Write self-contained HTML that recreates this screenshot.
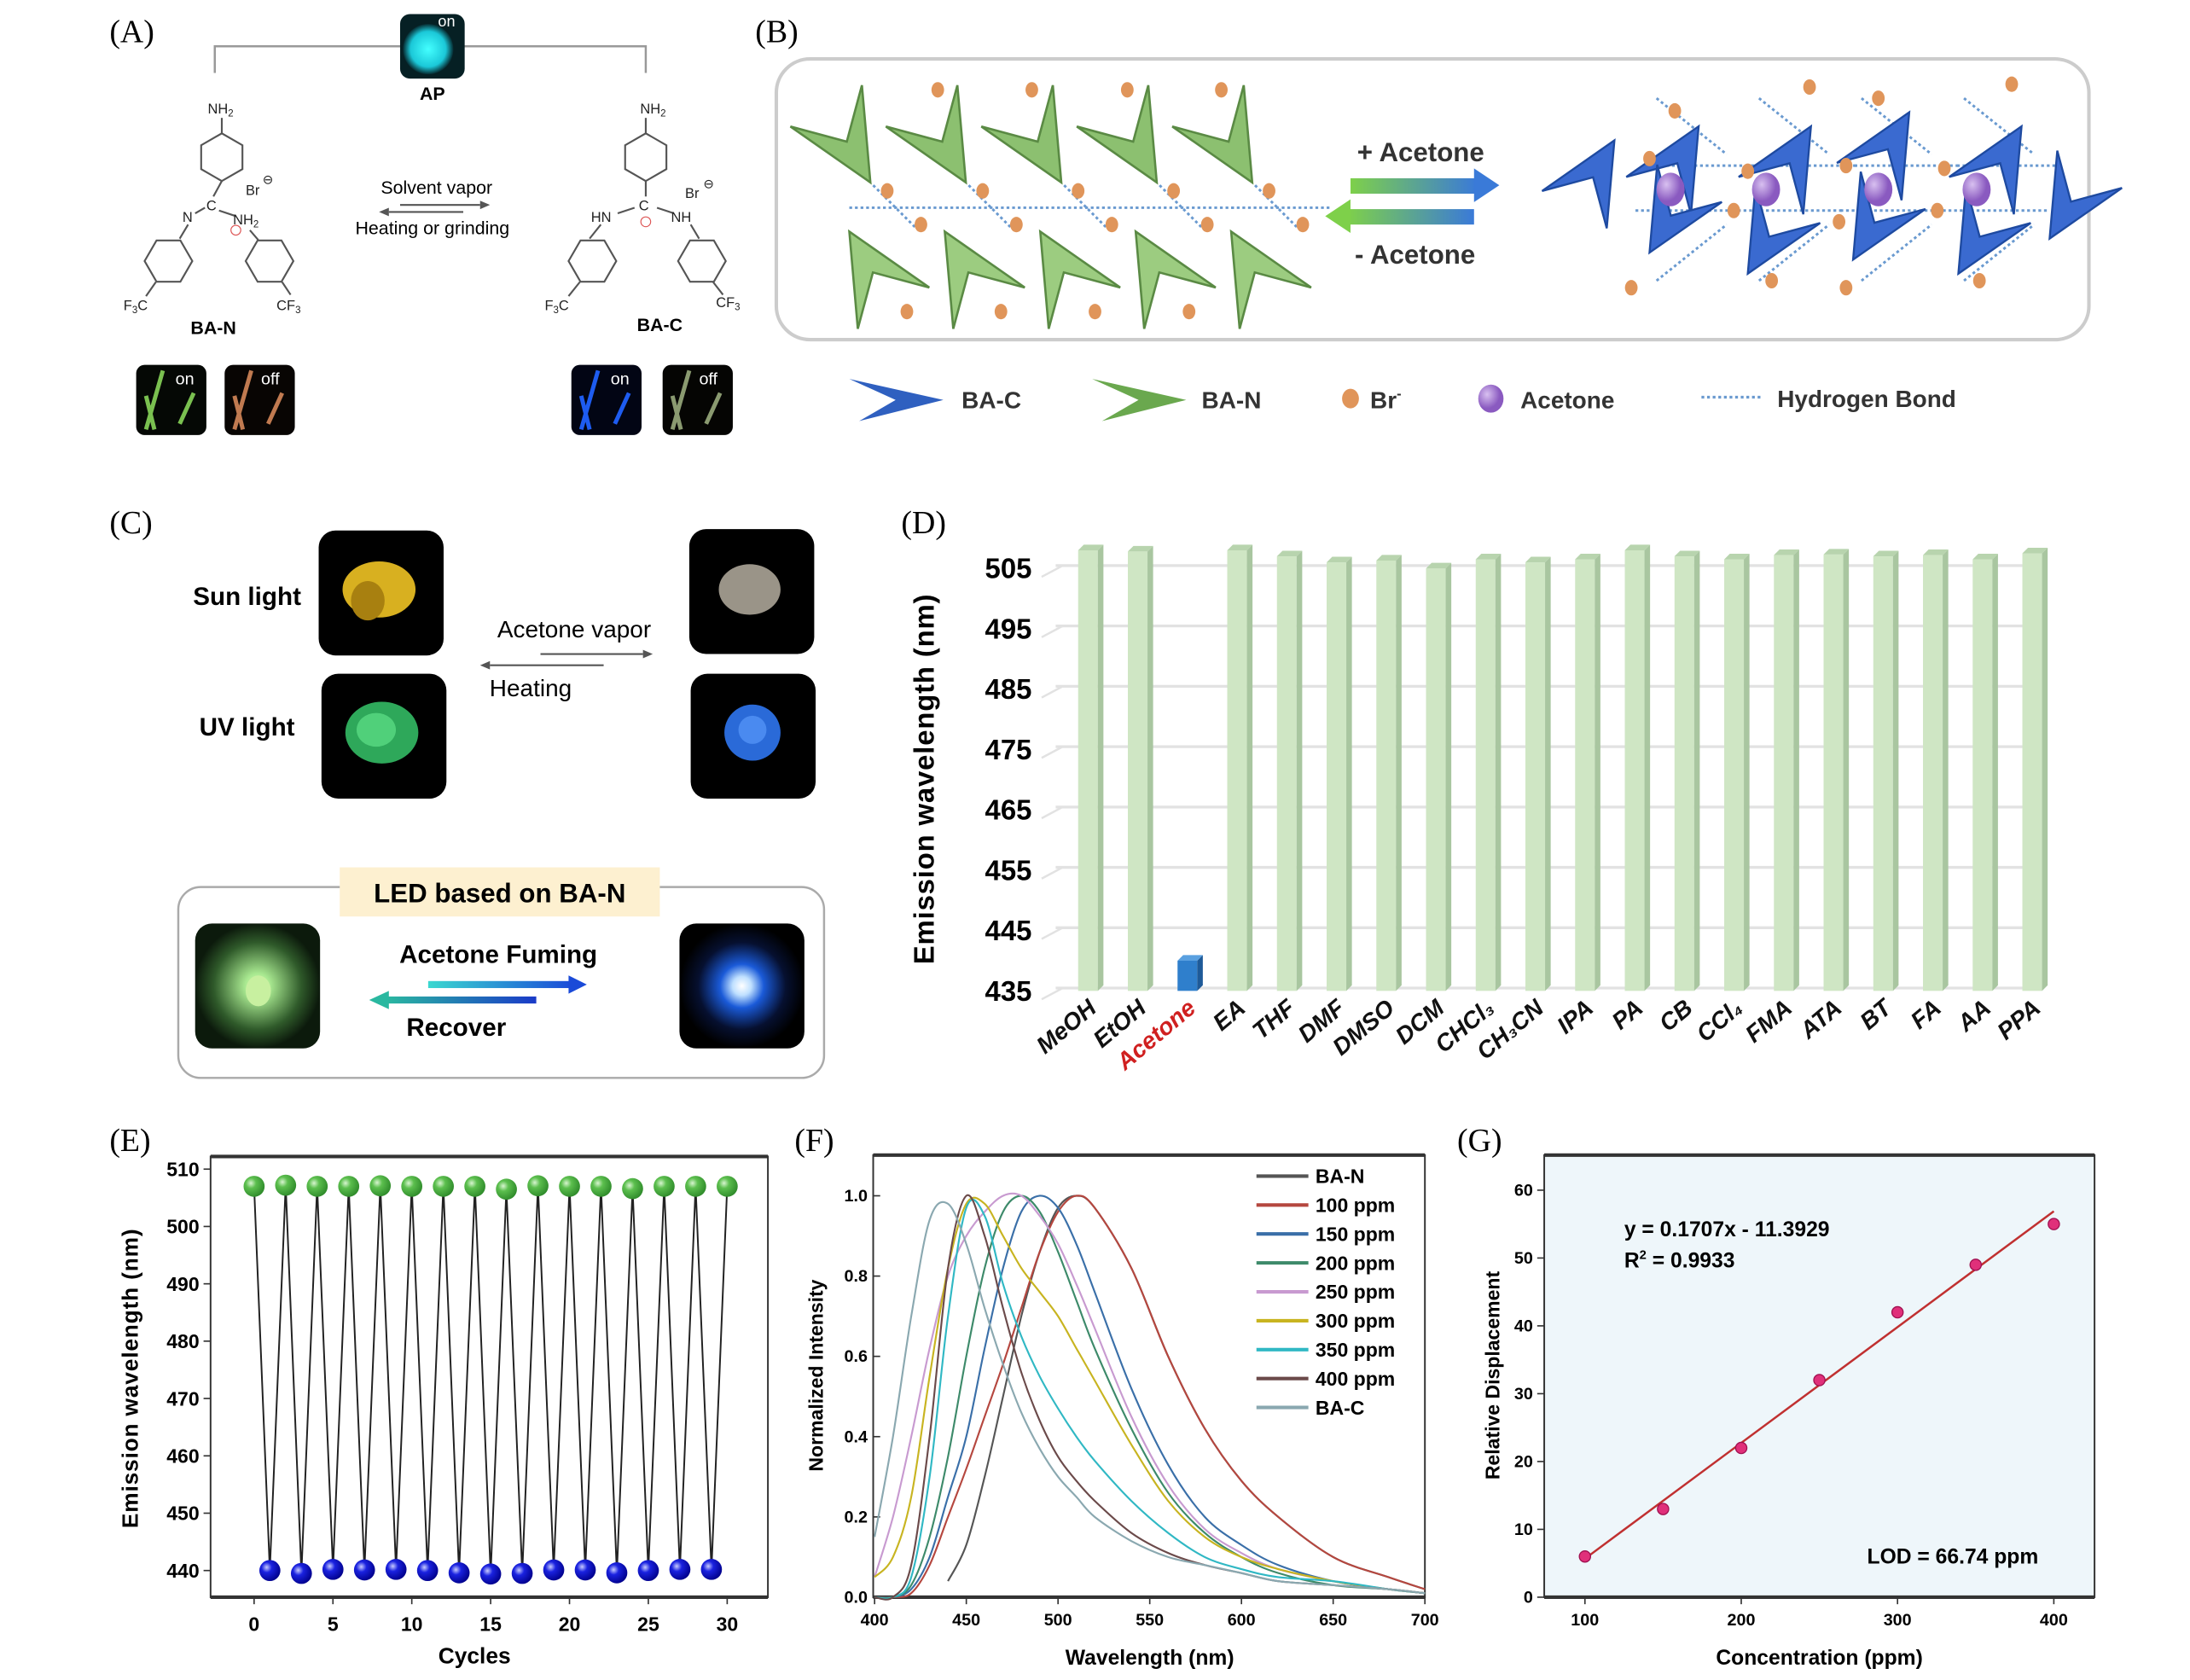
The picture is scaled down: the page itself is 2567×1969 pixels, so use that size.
<!DOCTYPE html>
<html><head><meta charset="utf-8"><style>
html,body{margin:0;padding:0;background:#fff}
svg{display:block}
text{font-family:"Liberation Sans",Arial,sans-serif}
.pl{font-family:"Liberation Serif",serif;font-size:23px}
.b{font-weight:bold}
</style></head><body>
<svg id="fig" width="2567" height="1969" viewBox="0 0 1560 1197" preserveAspectRatio="none" xmlns="http://www.w3.org/2000/svg">
<defs>
<radialGradient id="gG" cx="0.35" cy="0.35" r="0.7"><stop offset="0" stop-color="#d8f5d0"/><stop offset="0.35" stop-color="#5cbf4e"/><stop offset="1" stop-color="#2e8a2a"/></radialGradient>
<radialGradient id="gB" cx="0.35" cy="0.35" r="0.7"><stop offset="0" stop-color="#c8ccff"/><stop offset="0.35" stop-color="#1a22e0"/><stop offset="1" stop-color="#00008a"/></radialGradient>
<radialGradient id="gAP"><stop offset="0" stop-color="#4ff"/><stop offset="0.7" stop-color="#1bc8d8"/><stop offset="1" stop-color="#062a30"/></radialGradient>
<radialGradient id="gLedG"><stop offset="0" stop-color="#d6ffb0"/><stop offset="0.2" stop-color="#a8e890"/><stop offset="0.7" stop-color="#2f5a2a"/><stop offset="1" stop-color="#0c1a0c"/></radialGradient>
<radialGradient id="gLedB"><stop offset="0" stop-color="#fff"/><stop offset="0.15" stop-color="#bfe0ff"/><stop offset="0.35" stop-color="#1a5ad8"/><stop offset="0.7" stop-color="#061030"/><stop offset="1" stop-color="#000"/></radialGradient>
<radialGradient id="gPur" cx="0.35" cy="0.35"><stop offset="0" stop-color="#d8c0f0"/><stop offset="1" stop-color="#8a5ac0"/></radialGradient>
<linearGradient id="arrGB" x1="0" x2="1"><stop offset="0" stop-color="#7ed04a"/><stop offset="1" stop-color="#3a7ad8"/></linearGradient>
<linearGradient id="arrBG" x1="0" x2="1"><stop offset="0" stop-color="#7ed04a"/><stop offset="1" stop-color="#3a7ad8"/></linearGradient>
<linearGradient id="arrLed" x1="0" x2="1"><stop offset="0" stop-color="#3ad8d0"/><stop offset="1" stop-color="#1a4ad8"/></linearGradient>
<linearGradient id="arrLed2" x1="0" x2="1"><stop offset="0" stop-color="#2ab8a0"/><stop offset="1" stop-color="#1a3ac8"/></linearGradient>
</defs>

<!-- ===== Panel A ===== -->
<g>
<text class="pl" x="78" y="30">(A)</text>
<polyline points="153,52 153,33 286,33" fill="none" stroke="#999" stroke-width="1.5"/>
<polyline points="330,33 460,33 460,52" fill="none" stroke="#999" stroke-width="1.5"/>
<rect x="285" y="10" width="46" height="46" rx="7" fill="#062024"/>
<circle cx="305" cy="35" r="18" fill="url(#gAP)"/>
<text x="312" y="19" fill="#fff" font-size="11">on</text>
<text x="308" y="71" font-size="13" class="b" text-anchor="middle">AP</text>
<g id="mols" fill="none" stroke="#555" stroke-width="1.3"></g>
<g font-size="10" fill="#222">
<text x="148" y="81">NH<tspan font-size="7" dy="2">2</tspan></text>
<text x="175" y="139">Br</text><text x="187" y="131" font-size="9">⊖</text>
<text x="147" y="150">C</text>
<text x="130" y="158">N</text>
<text x="166" y="160">NH<tspan font-size="7" dy="2">2</tspan></text>
<circle cx="168" cy="164" r="3.5" fill="none" stroke="#d55" stroke-width="0.7"/>
<text x="88" y="221">F<tspan font-size="7" dy="2">3</tspan><tspan dy="-2">C</tspan></text>
<text x="197" y="221">CF<tspan font-size="7" dy="2">3</tspan></text>
<text x="456" y="81">NH<tspan font-size="7" dy="2">2</tspan></text>
<text x="488" y="141">Br</text><text x="501" y="134" font-size="9">⊖</text>
<text x="455" y="150">C</text>
<text x="421" y="158">HN</text>
<text x="478" y="158">NH</text>
<circle cx="460" cy="158" r="3.5" fill="none" stroke="#d55" stroke-width="0.7"/>
<text x="388" y="221">F<tspan font-size="7" dy="2">3</tspan><tspan dy="-2">C</tspan></text>
<text x="510" y="219">CF<tspan font-size="7" dy="2">3</tspan></text>
</g>
<text x="152" y="238" font-size="13" class="b" text-anchor="middle">BA-N</text>
<text x="470" y="236" font-size="13" class="b" text-anchor="middle">BA-C</text>
<text x="311" y="138" font-size="13" text-anchor="middle">Solvent vapor</text>
<text x="308" y="167" font-size="13" text-anchor="middle">Heating or grinding</text>
<line x1="285" y1="146" x2="342" y2="146" stroke="#555" stroke-width="1.3"/><polygon points="342,143 349,146 342,149" fill="#555"/>
<line x1="277" y1="151" x2="330" y2="151" stroke="#555" stroke-width="1.3"/><polygon points="277,148 270,151 277,154" fill="#555"/>
<g>
<rect x="97" y="260" width="50" height="50" rx="6" fill="#050805"/>
<path d="M104,306 L116,264 M110,306 L104,282 M128,302 L138,280" stroke="#7ac050" stroke-width="3"/>
<text x="125" y="274" fill="#fff" font-size="12">on</text>
<rect x="160" y="260" width="50" height="50" rx="6" fill="#080503"/>
<path d="M167,306 L179,264 M173,306 L167,282 M191,302 L201,280" stroke="#c07a50" stroke-width="3"/>
<text x="186" y="274" fill="#fff" font-size="12">off</text>
<rect x="407" y="260" width="50" height="50" rx="6" fill="#020514"/>
<path d="M414,306 L426,264 M420,306 L414,282 M438,302 L448,280" stroke="#1e5cf0" stroke-width="3"/>
<text x="435" y="274" fill="#fff" font-size="12">on</text>
<rect x="472" y="260" width="50" height="50" rx="6" fill="#050503"/>
<path d="M479,306 L491,264 M485,306 L479,282 M503,302 L513,280" stroke="#8a9a70" stroke-width="3"/>
<text x="498" y="274" fill="#fff" font-size="12">off</text>
</g>
</g>

<!-- ===== Panel B ===== -->
<g>
<text class="pl" x="538" y="30">(B)</text>
<rect x="553" y="42" width="935" height="200" rx="24" fill="#fff" stroke="#ccc" stroke-width="2.5"/>
<g id="latt"></g>
<text x="1012" y="115" font-size="19" class="b" fill="#333" text-anchor="middle">+ Acetone</text>
<text x="1008" y="188" font-size="19" class="b" fill="#333" text-anchor="middle">- Acetone</text>
<rect x="962" y="127" width="90" height="11" fill="url(#arrGB)"/><polygon points="1050,120 1068,132 1050,144" fill="#3a7ad8"/>
<rect x="960" y="149" width="90" height="11" fill="url(#arrBG)"/><polygon points="962,142 944,154 962,166" fill="#7ed04a"/>
<g font-size="17" class="b" fill="#333">
<polygon points="605,270 672,285 612,300 638,285" fill="#2f60c0"/><text x="685" y="291">BA-C</text>
<polygon points="778,270 845,285 785,300 811,285" fill="#6aa84e"/><text x="856" y="291">BA-N</text>
<ellipse cx="962" cy="284" rx="6" ry="7" fill="#e0955a"/><text x="976" y="291">Br<tspan font-size="10" dy="-7">-</tspan></text>
<ellipse cx="1062" cy="284" rx="9" ry="10" fill="url(#gPur)"/><text x="1083" y="291">Acetone</text>
<line x1="1212" y1="283" x2="1255" y2="283" stroke="#6a9ad0" stroke-width="2" stroke-dasharray="2,2"/><text x="1266" y="290">Hydrogen  Bond</text>
</g>
</g>

<!-- ===== Panel C ===== -->
<g>
<text class="pl" x="78" y="380">(C)</text>
<text x="176" y="431" font-size="18" class="b" text-anchor="middle">Sun light</text>
<text x="176" y="524" font-size="18" class="b" text-anchor="middle">UV light</text>
<rect x="227" y="378" width="89" height="89" rx="12" fill="#000"/>
<ellipse cx="270" cy="420" rx="26" ry="20" fill="#d8b020"/><ellipse cx="262" cy="428" rx="12" ry="14" fill="#a88010"/>
<rect x="229" y="480" width="89" height="89" rx="12" fill="#000"/>
<ellipse cx="272" cy="522" rx="26" ry="22" fill="#2ea85a"/><ellipse cx="268" cy="520" rx="14" ry="12" fill="#50d07a"/>
<rect x="491" y="377" width="89" height="89" rx="12" fill="#000"/>
<ellipse cx="534" cy="420" rx="22" ry="18" fill="#9a9488"/>
<rect x="492" y="480" width="89" height="89" rx="12" fill="#000"/>
<ellipse cx="536" cy="522" rx="20" ry="20" fill="#2a6ad8"/><ellipse cx="536" cy="520" rx="10" ry="10" fill="#4a8af0"/>
<text x="409" y="454" font-size="17" text-anchor="middle">Acetone vapor</text>
<text x="378" y="496" font-size="17" text-anchor="middle">Heating</text>
<line x1="385" y1="466" x2="458" y2="466" stroke="#555" stroke-width="1.3"/><polygon points="458,463 465,466 458,469" fill="#555"/>
<line x1="349" y1="474" x2="430" y2="474" stroke="#555" stroke-width="1.3"/><polygon points="349,471 342,474 349,477" fill="#555"/>
<rect x="127" y="632" width="460" height="136" rx="16" fill="#fff" stroke="#aaa" stroke-width="1.5"/>
<rect x="242" y="618" width="228" height="35" fill="#fdf0d0"/>
<text x="356" y="643" font-size="19" class="b" text-anchor="middle">LED based on BA-N</text>
<rect x="139" y="658" width="89" height="89" rx="12" fill="url(#gLedG)"/>
<ellipse cx="184" cy="706" rx="9" ry="11" fill="#c8f0a0"/>
<rect x="484" y="658" width="89" height="89" rx="12" fill="url(#gLedB)"/>
<text x="355" y="686" font-size="18" class="b" text-anchor="middle">Acetone Fuming</text>
<text x="325" y="738" font-size="18" class="b" text-anchor="middle">Recover</text>
<rect x="305" y="699" width="103" height="5" fill="url(#arrLed)"/><polygon points="405,695 418,701.5 405,708" fill="#1a4ad8"/>
<rect x="275" y="710" width="107" height="5" fill="url(#arrLed2)"/><polygon points="277,706 263,712.5 277,719" fill="#2ab8a0"/>
</g>

<!-- ===== Panel D ===== -->
<g>
<text class="pl" x="642" y="380">(D)</text>
<g id="chartD"></g>
<text transform="translate(665,555) rotate(-90)" font-size="20" class="b" text-anchor="middle" letter-spacing="0.5">Emission wavelength (nm)</text>
</g>

<!-- ===== Panel E ===== -->
<g>
<text class="pl" x="78" y="820">(E)</text>
<g id="chartE"></g>
<text transform="translate(98,982) rotate(-90)" font-size="16" class="b" text-anchor="middle" letter-spacing="0.5">Emission wavelength (nm)</text>
<text x="338" y="1185" font-size="16" class="b" text-anchor="middle">Cycles</text>
</g>

<!-- ===== Panel F ===== -->
<g>
<text class="pl" x="566" y="820">(F)</text>
<g id="chartF"></g>
<text transform="translate(586,980) rotate(-90)" font-size="14" class="b" text-anchor="middle">Normalized Intensity</text>
<text x="819" y="1186" font-size="15" class="b" text-anchor="middle">Wavelength (nm)</text>
</g>

<!-- ===== Panel G ===== -->
<g>
<text class="pl" x="1038" y="820">(G)</text>
<g id="chartG"></g>
<text transform="translate(1068,980) rotate(-90)" font-size="14" class="b" text-anchor="middle">Relative Displacement</text>
<text x="1296" y="1186" font-size="15" class="b" text-anchor="middle">Concentration (ppm)</text>
<text x="1157" y="881" font-size="15" class="b">y = 0.1707x - 11.3929</text>
<text x="1157" y="903" font-size="15" class="b">R<tspan font-size="9" dy="-6">2</tspan><tspan dy="6"> = 0.9933</tspan></text>
<text x="1330" y="1114" font-size="15" class="b">LOD = 66.74 ppm</text>
</g>
</svg>
<script>
// ---------- data ----------
const dCategories = ["MeOH","EtOH","Acetone","EA","THF","DMF","DMSO","DCM","CHCl3","CH3CN","IPA","PA","CB","CCl4","FMA","ATA","BT","FA","AA","PPA"];
const dValues = [508,507.8,440,508,507,506,506.3,505,506.5,506,506.5,508,507,506.5,507.2,507.3,507,507.2,506.5,507.5];
const dTicks = [435,445,455,465,475,485,495,505];

const eGreenCycles = [0,2,4,6,8,10,12,14,16,18,20,22,24,26,28,30];
const eGreenValues = [507,507.2,507,507,507.1,507,507,507,506.5,507.1,507,507,506.6,507,507,507];
const eBlueCycles = [1,3,5,7,9,11,13,15,17,19,21,23,25,27,29];
const eBlueValues = [440,439.5,440.2,440.1,440.2,440,439.6,439.4,439.5,440.1,440.1,439.6,440,440.2,440.2];
const eYTicks = [440,450,460,470,480,490,500,510];
const eXTicks = [0,5,10,15,20,25,30];

const fWavelengths = [400,410,420,430,440,450,460,470,480,490,500,510,520,540,560,580,600,620,650,680,700];
const fBAN   = [null,null,null,null,0.04,0.13,0.3,0.5,0.7,0.86,0.97,1.0,0.97,0.82,0.6,0.42,0.29,0.2,0.1,0.05,0.02];
const f100   = [0,0,0.01,0.08,0.2,0.32,0.45,0.58,0.72,0.86,0.96,1.0,0.97,0.82,0.6,0.42,0.29,0.2,0.1,0.05,0.02];
const f150   = [0,0,0.02,0.1,0.25,0.4,0.62,0.82,0.96,1.0,0.97,0.88,0.76,0.52,0.33,0.2,0.13,0.08,0.04,0.02,0.01];
const f200   = [0,0,0.03,0.15,0.35,0.6,0.82,0.96,1.0,0.96,0.86,0.74,0.62,0.42,0.26,0.16,0.1,0.06,0.03,0.02,0.01];
const f250   = [0.05,0.2,0.4,0.62,0.8,0.9,0.96,1.0,1.0,0.95,0.88,0.78,0.67,0.45,0.28,0.17,0.11,0.07,0.04,0.02,0.01];
const f300   = [0.05,0.1,0.25,0.55,0.82,0.98,0.98,0.9,0.82,0.76,0.7,0.62,0.54,0.38,0.24,0.15,0.1,0.07,0.04,0.02,0.01];
const f350   = [0,0,0.05,0.3,0.7,0.97,0.95,0.78,0.65,0.55,0.47,0.4,0.34,0.24,0.16,0.1,0.07,0.05,0.04,0.02,0.01];
const f400   = [0,0,0.08,0.4,0.82,1.0,0.9,0.72,0.56,0.44,0.35,0.29,0.24,0.16,0.11,0.08,0.06,0.04,0.03,0.02,0.01];
const fBAC   = [0.15,0.4,0.7,0.94,0.98,0.88,0.72,0.58,0.46,0.37,0.3,0.25,0.2,0.14,0.1,0.08,0.06,0.04,0.03,0.02,0.01];
const fSeriesNames = ["BA-N","100 ppm","150 ppm","200 ppm","250 ppm","300 ppm","350 ppm","400 ppm","BA-C"];
const fXTicks = [400,450,500,550,600,650,700];
const fYTicks = [0.0,0.2,0.4,0.6,0.8,1.0];

const gConc = [100,150,200,250,300,350,400];
const gDisp = [6,13,22,32,42,49,55];
const gFit = [0.1707,-11.3929];
const gXTicks = [100,200,300,400];
const gYTicks = [0,10,20,30,40,50,60];

// ---------- helpers ----------
const NS="http://www.w3.org/2000/svg";
function mk(parent,tag,attrs){const e=document.createElementNS(NS,tag);for(const k in attrs)e.setAttribute(k,attrs[k]);parent.appendChild(e);return e;}
function txt(parent,x,y,s,attrs){const e=mk(parent,"text",Object.assign({x:x,y:y},attrs||{}));e.textContent=s;return e;}
function smooth(pts){if(pts.length<2)return"";let d="M"+pts[0][0]+","+pts[0][1];for(let i=0;i<pts.length-1;i++){const p0=pts[i-1]||pts[i],p1=pts[i],p2=pts[i+1],p3=pts[i+2]||p2;const c1x=p1[0]+(p2[0]-p0[0])/6,c1y=p1[1]+(p2[1]-p0[1])/6,c2x=p2[0]-(p3[0]-p1[0])/6,c2y=p2[1]-(p3[1]-p1[1])/6;d+=" C"+c1x.toFixed(1)+","+c1y.toFixed(1)+" "+c2x.toFixed(1)+","+c2y.toFixed(1)+" "+p2[0].toFixed(1)+","+p2[1].toFixed(1);}return d;}

// ---------- molecules (panel A) ----------
(function(){
  const g=document.getElementById("mols");
  function hex(cx,cy,r,rot){let p=[];for(let i=0;i<6;i++){const a=(rot+60*i)*Math.PI/180;p.push((cx+r*Math.cos(a)).toFixed(1)+","+(cy+r*Math.sin(a)).toFixed(1));}const e=mk(g,"polygon",{points:p.join(" ")});}
  hex(158,112,17,90);hex(120,186,17,60);hex(192,186,17,120);
  hex(460,112,17,90);hex(422,186,17,60);hex(500,186,17,120);
  const L=[[158,84,158,95],[158,129,152,140],[146,148,139,152],[134,160,128,170],[156,150,168,154],[178,164,184,171],[111,201,104,211],[201,201,207,210],
           [460,84,460,95],[460,129,460,140],[452,148,440,152],[428,160,420,170],[468,148,480,152],[492,160,498,170],[413,201,405,211],[508,201,515,210]];
  L.forEach(l=>mk(g,"line",{x1:l[0],y1:l[1],x2:l[2],y2:l[3]}));
})();

// ---------- lattice (panel B) ----------
(function(){
  const g=document.getElementById("latt");
  function chev(x,y,s,rot,col,dark){const e=mk(g,"path",{d:"M0,0 L-60,-28 L-32,0 L-60,28 Z",transform:"translate("+x+","+y+") rotate("+rot+") scale("+s+")",fill:col,stroke:dark,"stroke-width":1.5});}
  function dot(x,y){mk(g,"ellipse",{cx:x,cy:y,rx:4.5,ry:5.5,fill:"#e0955a"});}
  function hb(x1,y1,x2,y2){mk(g,"line",{x1:x1,y1:y1,x2:x2,y2:y2,stroke:"#6a9ad0","stroke-width":1.8,"stroke-dasharray":"2,2"});}
  for(let i=0;i<5;i++){const x=560+i*68;
    hb(x+45,148,x+115,148);hb(x+62,132,x+92,162);
    chev(x+60,130,1.05,60,"#8cc070","#5a8a44");
    chev(x+45,165,1.05,-120,"#9ccc80","#5a8a44");}
  [668,735,803,870].forEach(x=>dot(x,64));[646,713,780,847].forEach(x=>dot(x,222));
  for(let i=0;i<5;i++){dot(632+i*68,136);dot(656+i*68,160);}
  const tops=[[1150,100],[1210,90],[1290,90],[1360,80],[1440,90]],bots=[[1175,180],[1245,195],[1320,185],[1395,195],[1460,170]];
  for(let i=0;i<4;i++){hb(1180+i*73,70,1230+i*73,110);hb(1180+i*73,200,1230+i*73,160);hb(1175+i*73,118,1250+i*73,118);hb(1165+i*73,150,1240+i*73,150);}
  tops.forEach(p=>chev(p[0],p[1],0.95,-60,"#3a6ad0","#1e4aa0"));
  bots.forEach(p=>chev(p[0],p[1],0.95,120,"#3a6ad0","#1e4aa0"));
  [[1193,79],[1289,62],[1338,70],[1433,60],[1175,113],[1245,122],[1315,118],[1385,120],[1235,150],[1310,158],[1380,150],[1162,205],[1262,200],[1315,205],[1410,200]].forEach(p=>dot(p[0],p[1]));
  [1190,1258,1338,1408].forEach(x=>{const e=mk(g,"ellipse",{cx:x,cy:135,rx:10,ry:12,fill:"url(#gPur)"});});
})();

// ---------- chart D ----------
(function(){
  const g=document.getElementById("chartD");
  const y0=706, pxPer=30.0/10; // 10 nm per 43px
  const ys=v=>y0-(v-435)*4.3;
  const xs=i=>776+i*35.4;
  dTicks.forEach(t=>{
    const y=ys(t);
    const gl=mk(g,"line",{x1:752,y1:y-2,x2:1442,y2:y-2,stroke:"#e2e2e2","stroke-width":2});
    
    mk(g,"line",{x1:742,y1:y+6,x2:757,y2:y-2,stroke:"#e2e2e2","stroke-width":1.5});
    const tl=txt(g,735,y+7,String(t),{"font-size":20,"font-weight":"bold","text-anchor":"end"});
    
  });
  dValues.forEach((v,i)=>{
    const x=xs(i), top=ys(v), isA=dCategories[i]==="Acetone";
    const front=isA?"#2f7fcc":"#cfe6c4", side=isA?"#1e5a98":"#a9c6a0", tp=isA?"#5aa0e0":"#b8d4ae";
    const b=mk(g,"rect",{x:x-8,y:top,width:14,height:y0-top,fill:front});
    
    mk(g,"polygon",{points:(x+6)+","+top+" "+(x+10)+","+(top-4)+" "+(x+10)+","+(y0-4)+" "+(x+6)+","+y0,fill:side});
    mk(g,"polygon",{points:(x-8)+","+top+" "+(x-4)+","+(top-4)+" "+(x+10)+","+(top-4)+" "+(x+6)+","+top,fill:tp});
    const lab=dCategories[i].replace("CHCl3","CHCl₃").replace("CH3CN","CH₃CN").replace("CCl4","CCl₄");
    const t=txt(g,0,0,lab,{transform:"translate("+(x+6)+","+(y0+14)+") rotate(-40)","font-size":17,"font-weight":"bold","font-style":"italic","text-anchor":"end",fill:isA?"#d02020":"#111"});
    
  });
})();

// ---------- chart E ----------
(function(){
  const g=document.getElementById("chartE");
  const X0=150,X1=547,Y0=1138,Y1=824;
  const xs=c=>181+c*(518-181)/30, ys=v=>1119-(v-440)*(1119-833)/70;
  const fr=mk(g,"rect",{x:X0,y:Y1,width:X1-X0,height:Y0-Y1,fill:"#fff",stroke:"#333","stroke-width":1.2});
  
  mk(g,"line",{x1:X0,y1:Y1,x2:X1,y2:Y1,stroke:"#333","stroke-width":2.5});
  mk(g,"line",{x1:X0,y1:Y0,x2:X1,y2:Y0,stroke:"#333","stroke-width":2.5});
  eYTicks.forEach(t=>{const y=ys(t);mk(g,"line",{x1:X0-5,y1:y,x2:X0,y2:y,stroke:"#333"});
    const l=txt(g,X0-8,y+5,String(t),{"font-size":14,"font-weight":"bold","text-anchor":"end"});});
  eXTicks.forEach(t=>{const x=xs(t);mk(g,"line",{x1:x,y1:Y0,x2:x,y2:Y0+5,stroke:"#333"});
    const l=txt(g,x,Y0+24,String(t),{"font-size":14,"font-weight":"bold","text-anchor":"middle"});});
  let pts=[];
  eGreenCycles.forEach((c,i)=>pts.push([c,eGreenValues[i]]));
  eBlueCycles.forEach((c,i)=>pts.push([c,eBlueValues[i]]));
  pts.sort((a,b)=>a[0]-b[0]);
  const ln=mk(g,"polyline",{points:pts.map(p=>xs(p[0]).toFixed(1)+","+ys(p[1]).toFixed(1)).join(" "),fill:"none",stroke:"#222","stroke-width":1.2});
  
  eGreenCycles.forEach((c,i)=>{const m=mk(g,"circle",{cx:xs(c),cy:ys(eGreenValues[i]),r:7.5,fill:"url(#gG)"});});
  eBlueCycles.forEach((c,i)=>{const m=mk(g,"circle",{cx:xs(c),cy:ys(eBlueValues[i]),r:7.5,fill:"url(#gB)"});});
})();

// ---------- chart F ----------
(function(){
  const g=document.getElementById("chartF");
  const X0=622,X1=1015,Y0=1138,Y1=823;
  const xs=w=>623+(w-400)*(1015-623)/300, ys=v=>1138-v*(1138-852);
  const fr=mk(g,"rect",{x:X0,y:Y1,width:X1-X0,height:Y0-Y1,fill:"#fff",stroke:"#333","stroke-width":1.2});
  
  mk(g,"line",{x1:X0,y1:Y1,x2:X1,y2:Y1,stroke:"#333","stroke-width":2.5});
  mk(g,"line",{x1:X0,y1:Y0,x2:X1,y2:Y0,stroke:"#333","stroke-width":2.5});
  fYTicks.forEach(t=>{const y=ys(t);mk(g,"line",{x1:X0,y1:y,x2:X0+5,y2:y,stroke:"#333"});
    const l=txt(g,X0-4,y+4,t.toFixed(1),{"font-size":12,"font-weight":"bold","text-anchor":"end"});});
  fXTicks.forEach(t=>{const x=xs(t);mk(g,"line",{x1:x,y1:Y0,x2:x,y2:Y0+5,stroke:"#333"});
    const l=txt(g,x,Y0+20,String(t),{"font-size":12,"font-weight":"bold","text-anchor":"middle"});});
  const series=[fBAN,f100,f150,f200,f250,f300,f350,f400,fBAC];
  const cols=["#555555","#b5473f","#3a6fa8","#3d8a6a","#c89ad0","#c8b420","#30b8c4","#6b4a4a","#8aa8b0"];
  series.forEach((s,k)=>{
    const pts=[];s.forEach((v,i)=>{if(v!==null)pts.push([xs(fWavelengths[i]),ys(v)]);});
    const p=mk(g,"path",{d:smooth(pts),fill:"none",stroke:cols[k],"stroke-width":1.3});
    
    const ly=838+k*20.6;
    mk(g,"line",{x1:895,y1:ly,x2:932,y2:ly,stroke:cols[k],"stroke-width":2.5});
    const lt=txt(g,937,ly+5,fSeriesNames[k],{"font-size":14,"font-weight":"bold"});
    
  });
})();

// ---------- chart G ----------
(function(){
  const g=document.getElementById("chartG");
  const X0=1100,X1=1492,Y0=1138,Y1=823;
  const xs=c=>1129+(c-100)*(1463-1129)/300, ys=v=>1138-v*(1138-848)/60;
  const fr=mk(g,"rect",{x:X0,y:Y1,width:X1-X0,height:Y0-Y1,fill:"#eef6fa",stroke:"#333","stroke-width":1.2});
  
  mk(g,"line",{x1:X0,y1:Y1,x2:X1,y2:Y1,stroke:"#333","stroke-width":2.5});
  mk(g,"line",{x1:X0,y1:Y0,x2:X1,y2:Y0,stroke:"#333","stroke-width":2.5});
  gYTicks.forEach(t=>{const y=ys(t);mk(g,"line",{x1:X0-5,y1:y,x2:X0,y2:y,stroke:"#333"});
    const l=txt(g,X0-8,y+4,String(t),{"font-size":12,"font-weight":"bold","text-anchor":"end"});});
  gXTicks.forEach(t=>{const x=xs(t);mk(g,"line",{x1:x,y1:Y0,x2:x,y2:Y0+5,stroke:"#333"});
    const l=txt(g,x,Y0+20,String(t),{"font-size":12,"font-weight":"bold","text-anchor":"middle"});});
  const xa=gConc[0],xb=gConc[gConc.length-1];
  const fl=mk(g,"line",{x1:xs(xa),y1:ys(gFit[0]*xa+gFit[1]),x2:xs(xb),y2:ys(gFit[0]*xb+gFit[1]),stroke:"#c03030","stroke-width":1.5});
  
  gConc.forEach((c,i)=>{const m=mk(g,"circle",{cx:xs(c),cy:ys(gDisp[i]),r:4,fill:"#e0307a",stroke:"#a01050","stroke-width":0.8});});
})();
</script>
</body></html>
